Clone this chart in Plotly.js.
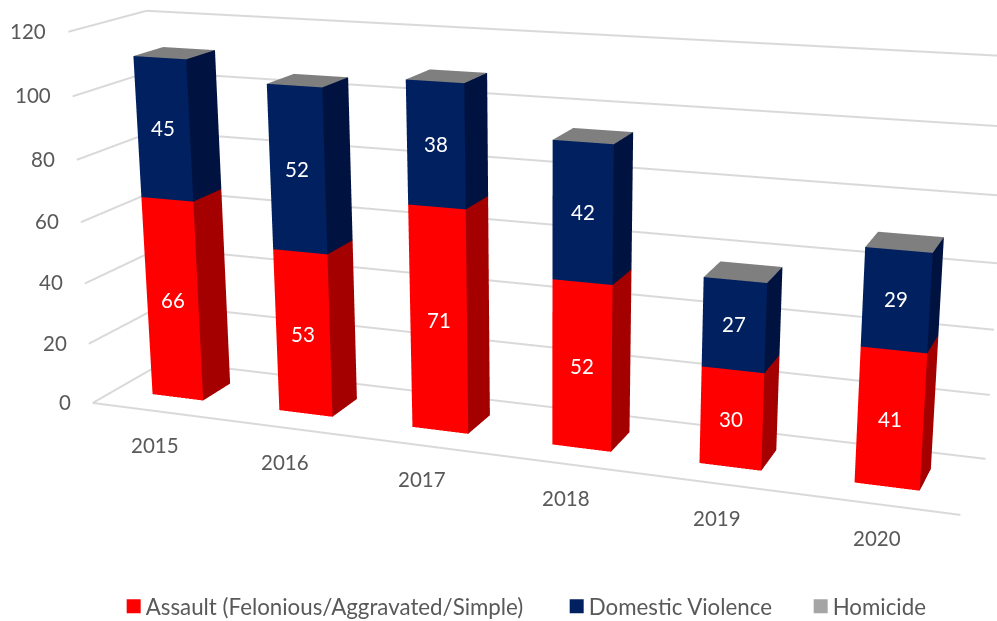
<!DOCTYPE html>
<html><head><meta charset="utf-8"><script src="https://cdn.plot.ly/plotly-3.0.1.min.js"></script>
<style>html,body{margin:0;padding:0;background:#fff;overflow:hidden}</style></head>
<body><div id="chart" style="width:997px;height:621px"></div>
<script>
const years=['2015','2016','2017','2018','2019','2020'];
const assault=[66,53,71,52,30,41];
const domestic=[45,52,38,42,27,29];
const homicide=[0,0,0,0,0,0];
const valueTicks=[0,20,40,60,80,100,120];
const seriesNames=['Assault (Felonious/Aggravated/Simple)','Domestic Violence','Homicide'];

const barW=.4047,yFront=.3063,yBack=.6988,TEXT='#595959',GRID='#D9D9D9';
function stackMesh(vals,base,name,front,side,top){
  const m={type:'mesh3d',name,x:[],y:[],z:[],i:[],j:[],k:[],facecolor:[],flatshading:true,showscale:false,hoverinfo:'skip',
    lighting:{ambient:1,diffuse:0,specular:0,roughness:1,fresnel:0},showlegend:false};
  function quad(a,b,c,d,col){m.i.push(a,a);m.j.push(b,c);m.k.push(c,d);m.facecolor.push(col,col);}
  vals.forEach((v,n)=>{
    const x0=n+.5-barW/2,x1=n+.5+barW/2,z0=base[n],z1=base[n]+v,o=m.x.length;
    [[x0,yFront,z0],[x1,yFront,z0],[x1,yFront,z1],[x0,yFront,z1],[x1,yBack,z0],[x1,yBack,z1],[x0,yBack,z1]].forEach(p=>{m.x.push(p[0]);m.y.push(p[1]);m.z.push(p[2]);});
    if(v>0){quad(o,o+1,o+2,o+3,front);quad(o+1,o+4,o+5,o+2,side);}
    if(top)quad(o+3,o+2,o+5,o+6,top);
  });
  return m;
}
const zero=years.map(()=>0),lvl2=assault,lvl3=assault.map((v,n)=>v+domestic[n]);
function legendTrace(name,color,z,w){return {type:'scatter3d',mode:'markers',name,x:[.5],y:[.5],z:[z],hoverinfo:'skip',legendwidth:w,
  marker:{symbol:'square',size:14,color,line:{width:0}}};}
const gx=[],gy=[],gz=[];
valueTicks.forEach(t=>{gx.push(0,0,6,null);gy.push(0,1,1,null);gz.push(t,t,t,null);});
gx.push(0,6);gy.push(0,0);gz.push(0,0);
const traces=[
 {type:'scatter3d',mode:'lines',x:gx,y:gy,z:gz,line:{color:GRID,width:4},hoverinfo:'skip',showlegend:false,connectgaps:false},
 stackMesh(assault,zero,seriesNames[0],'#FF0000','#A50000',null),
 stackMesh(domestic,lvl2,seriesNames[1],'#002060','#001340',null),
 stackMesh(homicide,lvl3,seriesNames[2],'#7F7F7F','#5F5F5F','#7F7F7F'),
 legendTrace(seriesNames[0],'#FF0000',30,398),legendTrace(seriesNames[1],'#002060',90,199),legendTrace(seriesNames[2],'#A5A5A5',100,96)
];
const anns=[],FS=20.5;
valueTicks.forEach(t=>anns.push({x:0,y:0,z:t,text:String(t),showarrow:false,xanchor:'right',xshift:-20,yshift:1,font:{size:FS,color:TEXT,family:'Lato'}}));
years.forEach((y,n)=>{
  anns.push({x:n+.5,y:0,z:0,text:y,showarrow:false,yshift:-34,font:{size:FS,color:TEXT,family:'Lato'}});
  anns.push({x:n+.5,y:yFront,z:assault[n]/2,text:String(assault[n]),showarrow:false,font:{size:FS,color:'#fff',family:'Lato'}});
  anns.push({x:n+.5,y:yFront,z:assault[n]+domestic[n]/2,text:String(domestic[n]),yshift:1,showarrow:false,font:{size:FS,color:'#fff',family:'Lato'}});
});
const eye=[1.5338,-4.0035,1.135],fw=[-.3399,.8771,-.278],roll=-.0067,fovy=2*Math.atan(310.5/2072.84);
const n=Math.hypot(...fw),F=fw.map(a=>a/n);
let R=[F[1],-F[0],0];const rn=Math.hypot(...R);R=R.map(a=>a/rn);
const U0=[R[1]*F[2]-R[2]*F[1],R[2]*F[0]-R[0]*F[2],R[0]*F[1]-R[1]*F[0]];
const up=U0.map((a,i)=>Math.cos(roll)*a-Math.sin(roll)*R[i]);
const center=eye.map((a,i)=>a+F[i]*4.4);
const axis=r=>({range:r,visible:false,showgrid:false,zeroline:false,showline:false,showticklabels:false,showspikes:false,showbackground:false,title:{text:''}});
const layout={width:997,height:621,margin:{l:0,r:0,t:0,b:0,autoexpand:false},paper_bgcolor:'#fff',
 showlegend:true,legend:{orientation:'h',x:.106,y:-.01,xanchor:'left',yanchor:'bottom',font:{size:22.3,color:TEXT,family:'Lato'},bgcolor:'rgba(0,0,0,0)',itemclick:false,itemdoubleclick:false},
 scene:{domain:{x:[0,1],y:[0,1]},aspectmode:'manual',aspectratio:{x:2,y:.5065,z:.8669},
  camera:{eye:{x:eye[0],y:eye[1],z:eye[2]},center:{x:center[0],y:center[1],z:center[2]},up:{x:up[0],y:up[1],z:up[2]}},
  xaxis:axis([0,6]),yaxis:axis([-.5,1]),zaxis:axis([0,120]),dragmode:false,annotations:anns}};
Plotly.newPlot('chart',traces,layout,{displayModeBar:false}).then(gd=>{
  const g=gd._fullLayout.scene._scene.glplot;g.fovy=fovy;g.redraw();
  document.querySelectorAll('.legendsymbols').forEach(s=>s.setAttribute('transform','translate(8,0)'));
});
</script></body></html>
